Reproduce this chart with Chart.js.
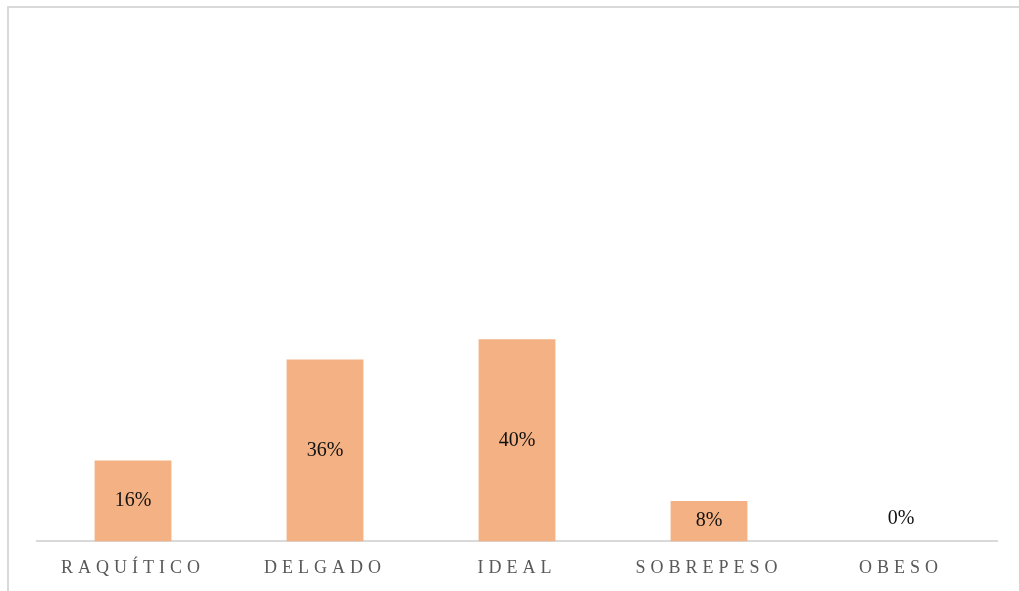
<!DOCTYPE html>
<html>
<head>
<meta charset="utf-8">
<script src="https://cdn.jsdelivr.net/npm/chart.js@4"></script>
<style>
  html, body { margin: 0; padding: 0; background: #fff; }
  #wrap { position: relative; width: 1019px; height: 591px; overflow: hidden; }
  #frame { position: absolute; left: 7px; top: 6px; width: 1100px; height: 700px;
           border-left: 2px solid #d9d9d9; border-top: 2px solid #d9d9d9; box-sizing: border-box; }
  canvas { position: absolute; left: 0; top: 0; }
</style>
</head>
<body>
<div id="wrap">
  <div id="frame"></div>
  <canvas id="c" width="1019" height="591"></canvas>
</div>
<script>
const categories = ["RAQUÍTICO", "DELGADO", "IDEAL", "SOBREPESO", "OBESO"];
const values = [16, 36, 40, 8, 0];
const valueLabels = ["16%", "36%", "40%", "8%", "0%"];

const spacingPlugin = {
  id: 'spacing',
  beforeDraw(chart) { chart.ctx.letterSpacing = '5px'; }
};

const labelPlugin = {
  id: 'valueLabels',
  afterDatasetsDraw(chart) {
    const ctx = chart.ctx;
    const meta = chart.getDatasetMeta(0);
    ctx.save();
    ctx.letterSpacing = '0px';
    ctx.font = '20px "Liberation Serif", "Times New Roman", serif';
    ctx.fillStyle = '#111111';
    ctx.textAlign = 'center';
    ctx.textBaseline = 'middle';
    meta.data.forEach((bar, i) => {
      let y = (bar.y + bar.base) / 2;
      if (values[i] === 0) y = bar.base - 23;
      ctx.fillText(valueLabels[i], bar.x, y);
    });
    ctx.restore();
  }
};

new Chart(document.getElementById('c'), {
  type: 'bar',
  data: {
    labels: categories,
    datasets: [{
      data: values,
      backgroundColor: '#f4b183',
      borderWidth: 0,
      barPercentage: 0.8,
      categoryPercentage: 0.5
    }]
  },
  options: {
    responsive: false,
    animation: false,
    layout: { padding: { left: 37, right: 22, top: 36, bottom: -4 } },
    plugins: { legend: { display: false }, tooltip: { enabled: false } },
    scales: {
      x: {
        grid: { display: false, drawTicks: false },
        border: { display: true, color: '#d9d9d9', width: 2 },
        ticks: {
          color: '#595959',
          padding: 16,
          font: { family: '"Liberation Serif", "Times New Roman", serif', size: 18 }
        }
      },
      y: { display: false, min: 0, max: 100 }
    }
  },
  plugins: [spacingPlugin, labelPlugin]
});
</script>
</body>
</html>
